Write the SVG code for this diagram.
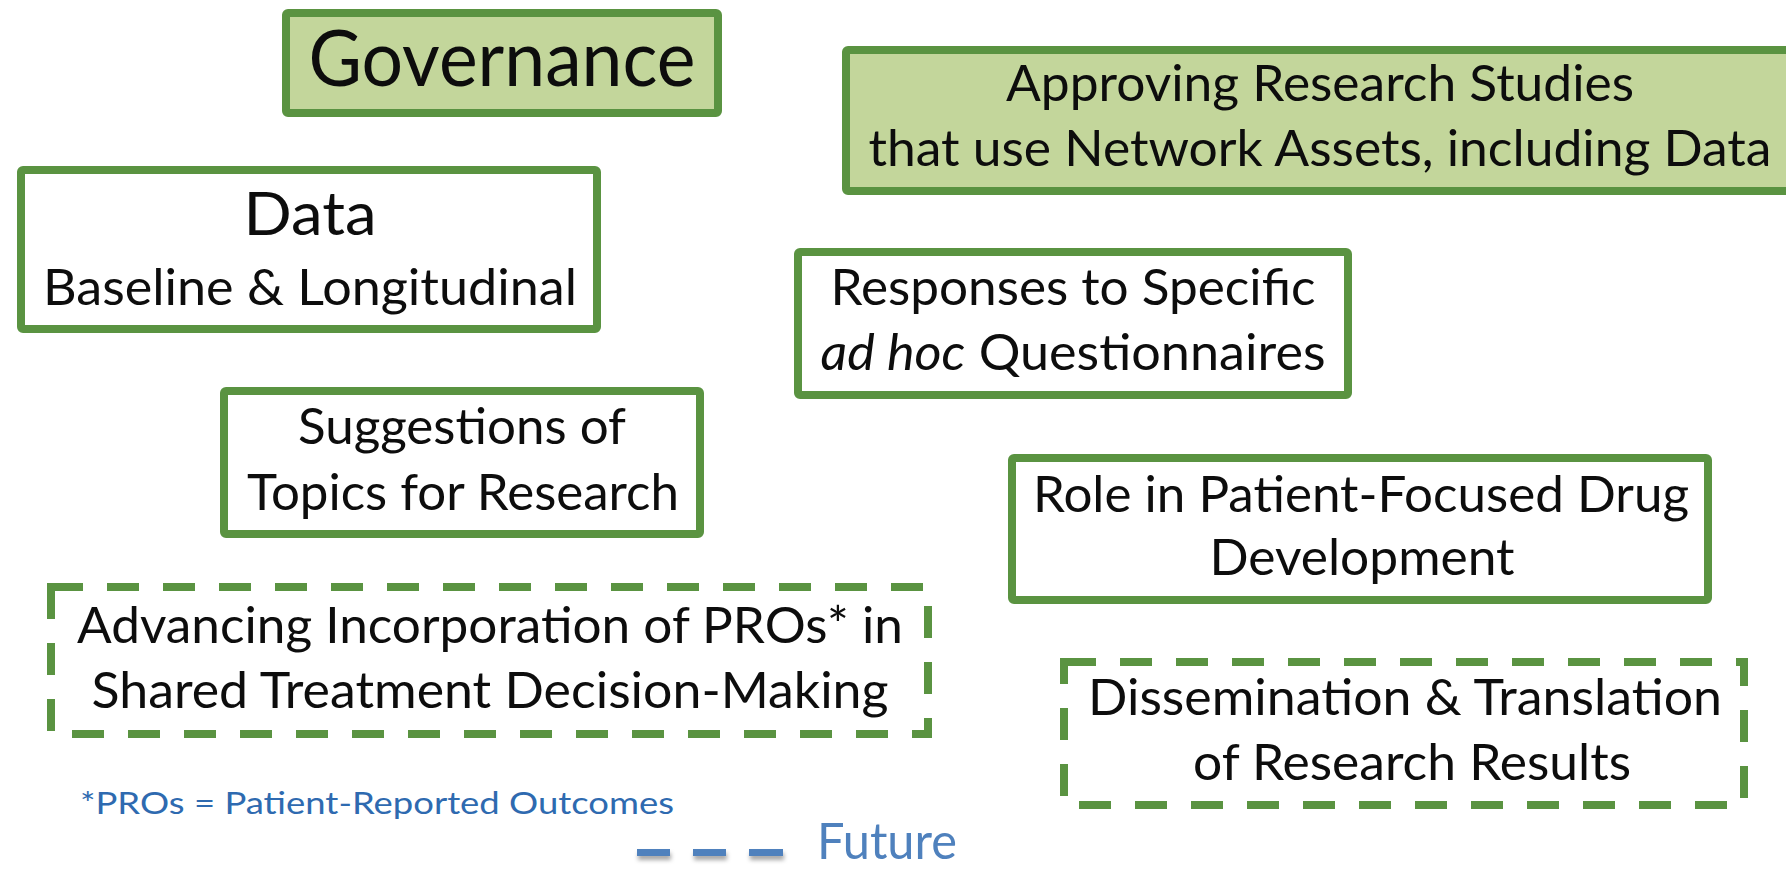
<svg xmlns="http://www.w3.org/2000/svg" width="1786" height="869" viewBox="0 0 1786 869">
<style>
  .box{fill:#ffffff;stroke:#5a9341;stroke-width:8}
  .gov{fill:#c3d69b;stroke:#5a9341;stroke-width:8}
  .dash{fill:#ffffff;stroke:#5a9341;stroke-width:8;stroke-dasharray:32 24}
  .t{font-family:Lato,"Liberation Sans",sans-serif;fill:#0d0d0d;text-anchor:middle;font-size:51px}
  .foot{font-family:Lato,"Liberation Sans",sans-serif;fill:#2e6ab0;font-size:31px}
  .fut{font-family:Lato,"Liberation Sans",sans-serif;fill:#4f81bd;font-size:50px}
  .ld{fill:#4f81bd}
</style>
<defs>
  <filter id="sh" filterUnits="userSpaceOnUse" x="620" y="835" width="180" height="34">
    <feDropShadow dx="1" dy="4" stdDeviation="2" flood-color="#000" flood-opacity="0.35"/>
  </filter>
</defs>
<rect width="1786" height="869" fill="#ffffff"/>
<g id="governance">
  <rect class="gov" x="286" y="13" width="432" height="100" rx="2"/>
  <text class="t" x="502" y="86" style="font-size:78px" textLength="387" lengthAdjust="spacingAndGlyphs">Governance</text>
</g>
<g id="approving">
  <rect class="gov" x="846" y="50" width="960" height="141" rx="2"/>
  <text class="t" x="1320" y="101" textLength="628" lengthAdjust="spacingAndGlyphs">Approving Research Studies</text>
  <text class="t" x="1320" y="166" textLength="903" lengthAdjust="spacingAndGlyphs">that use Network Assets, including Data</text>
</g>
<g id="data">
  <rect class="box" x="21" y="170" width="576" height="159" rx="2"/>
  <text class="t" x="310" y="235" style="font-size:60px" textLength="133" lengthAdjust="spacingAndGlyphs">Data</text>
  <text class="t" x="310" y="305" textLength="534" lengthAdjust="spacingAndGlyphs">Baseline &amp; Longitudinal</text>
</g>
<g id="responses">
  <rect class="box" x="798" y="252" width="550" height="143" rx="2"/>
  <text class="t" x="1073" y="305" textLength="485" lengthAdjust="spacingAndGlyphs">Responses to Specific</text>
  <text class="t" x="1073" y="370" textLength="505" lengthAdjust="spacingAndGlyphs"><tspan font-style="italic">ad hoc</tspan> Questionnaires</text>
</g>
<g id="suggestions">
  <rect class="box" x="224" y="391" width="476" height="143" rx="2"/>
  <text class="t" x="462" y="444" textLength="328" lengthAdjust="spacingAndGlyphs">Suggestions of</text>
  <text class="t" x="463" y="510" textLength="432" lengthAdjust="spacingAndGlyphs">Topics for Research</text>
</g>
<g id="role">
  <rect class="box" x="1012" y="458" width="696" height="142" rx="2"/>
  <text class="t" x="1361" y="512" textLength="656" lengthAdjust="spacingAndGlyphs">Role in Patient-Focused Drug</text>
  <text class="t" x="1362" y="575" textLength="305" lengthAdjust="spacingAndGlyphs">Development</text>
</g>
<g id="advancing">
  <path class="dash" d="M51,587 H928 V734 H51 Z"/>
  <text class="t" x="490" y="643" textLength="826" lengthAdjust="spacingAndGlyphs">Advancing Incorporation of PROs* in</text>
  <text class="t" x="490" y="708" textLength="797" lengthAdjust="spacingAndGlyphs">Shared Treatment Decision-Making</text>
</g>
<g id="dissemination">
  <path class="dash" d="M1064,662 H1744 V805 H1064 Z"/>
  <text class="t" x="1405" y="715" textLength="634" lengthAdjust="spacingAndGlyphs">Dissemination &amp; Translation</text>
  <text class="t" x="1412" y="780" textLength="438" lengthAdjust="spacingAndGlyphs">of Research Results</text>
</g>
<g id="footnote">
  <text class="foot" x="80" y="814" textLength="594" lengthAdjust="spacingAndGlyphs">*PROs = Patient-Reported Outcomes</text>
</g>
<g id="legend">
  <g filter="url(#sh)">
    <rect class="ld" x="637" y="849" width="33" height="7"/>
    <rect class="ld" x="693" y="849" width="33" height="7"/>
    <rect class="ld" x="749" y="849" width="34" height="7"/>
  </g>
  <text class="fut" x="817" y="859" textLength="140" lengthAdjust="spacingAndGlyphs">Future</text>
</g>
<g id="connectors"></g>
</svg>
